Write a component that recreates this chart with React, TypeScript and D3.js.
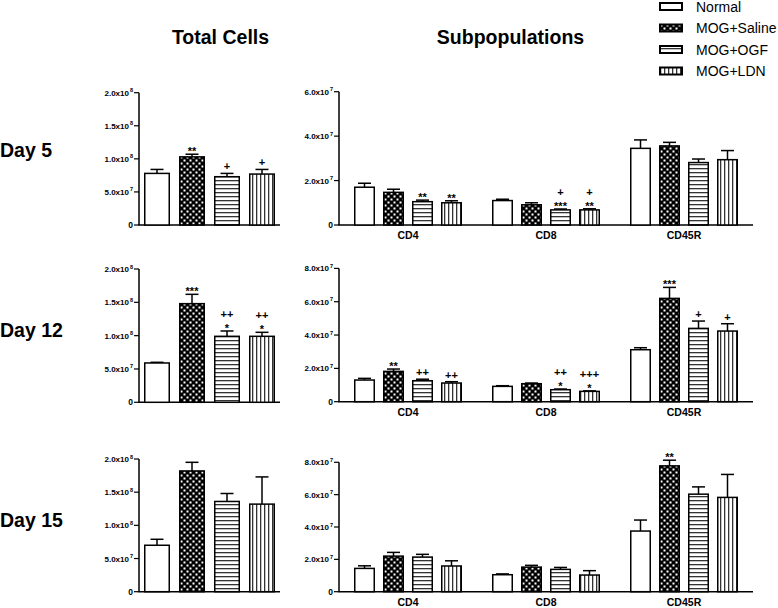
import React from "react";
import * as d3 from "d3";

const groups = ["Normal", "MOG+Saline", "MOG+OGF", "MOG+LDN"];
const subsets = ["CD4", "CD8", "CD45R"];
const days = ["Day 5", "Day 12", "Day 15"];

// Total cells (x1e8)
const totalMeans = [
  [0.78, 1.03, 0.73, 0.77],
  [0.59, 1.48, 0.99, 0.99],
  [0.7, 1.82, 1.36, 1.32],
];
const totalErr = [
  [0.06, 0.04, 0.05, 0.07],
  [0.01, 0.14, 0.08, 0.06],
  [0.09, 0.13, 0.12, 0.41],
];
const totalMarks = [
  [[], ["**"], ["+"], ["+"]],
  [[], ["***"], ["++", "*"], ["++", "*"]],
  [[], [], [], []],
];

// Subpopulations (x1e7): [day][subset][group]
const subMeans = [
  [[1.7, 1.47, 1.05, 1.0], [1.1, 0.91, 0.68, 0.68], [3.45, 3.56, 2.81, 2.94]],
  [[1.3, 1.82, 1.26, 1.12], [0.92, 1.08, 0.72, 0.62], [3.12, 6.2, 4.4, 4.24]],
  [[1.44, 2.2, 2.14, 1.59], [1.05, 1.52, 1.38, 1.03], [3.75, 7.78, 6.03, 5.83]],
];
const subErr = [
  [[0.18, 0.14, 0.07, 0.09], [0.06, 0.09, 0.04, 0.05], [0.38, 0.16, 0.16, 0.41]],
  [[0.1, 0.14, 0.09, 0.08], [0.04, 0.04, 0.04, 0.03], [0.12, 0.66, 0.44, 0.44]],
  [[0.16, 0.23, 0.17, 0.32], [0.05, 0.11, 0.12, 0.27], [0.68, 0.35, 0.45, 1.42]],
];
const subMarks = [
  [[[], [], ["**"], ["**"]], [[], [], ["+", "***"], ["+", "**"]], [[], [], [], []]],
  [[[], ["**"], ["++"], ["++"]], [[], [], ["++", "*"], ["+++", "*"]], [[], ["***"], ["+"], ["+"]]],
  [[[], [], [], []], [[], [], [], []], [[], ["**"], [], []]],
];

const totalTicks = [
  [0, ""],
  [0.5, "5.0x10|7"],
  [1.0, "1.0x10|8"],
  [1.5, "1.5x10|8"],
  [2.0, "2.0x10|8"],
];
const subTicksDay5 = [
  [0, ""],
  [2, "2.0x10|7"],
  [4, "4.0x10|7"],
  [6, "6.0x10|7"],
];
const subTicks = [
  [0, ""],
  [2, "2.0x10|7"],
  [4, "4.0x10|7"],
  [6, "6.0x10|7"],
  [8, "8.0x10|7"],
];

const fills = ["#fff", "url(#pCheck)", "url(#pH)", "url(#pV)"];
const FONT = "'Liberation Sans', Arial, Helvetica, sans-serif";

const totalRows = [
  [92.7, 225],
  [269, 402.3],
  [459, 591.7],
];
const subRows = [
  [91.7, 225],
  [268.4, 401.7],
  [462.3, 591.7],
];
const dayLabelY = [157, 337, 527];

function TickLabel({ x, y, label }: { x: number; y: number; label: string }) {
  if (label === "") {
    return (
      <text x={x} y={y + 3} textAnchor="end" fontSize={8.5} fontWeight="bold" fontFamily={FONT}>
        0
      </text>
    );
  }
  const [base, exp] = label.split("|");
  return (
    <text x={x} y={y + 3} textAnchor="end" fontSize={8} fontWeight="bold" fontFamily={FONT}>
      {base}
      <tspan dx={1} dy={-3.5} fontSize={5.5}>
        {exp}
      </tspan>
    </text>
  );
}

function Axis({ x0, x1, y, ticks }: { x0: number; x1: number; y: d3.ScaleLinear<number, number>; ticks: any[] }) {
  const [bottom, top] = y.range();
  return (
    <g>
      <line x1={x0} x2={x0} y1={top} y2={bottom} stroke="#000" strokeWidth={1.5} />
      <line x1={x0 - 0.75} x2={x1} y1={bottom} y2={bottom} stroke="#000" strokeWidth={1.5} />
      {ticks.map(([v, lab]: any, i: number) => (
        <g key={i}>
          <line x1={x0 - 5} x2={x0} y1={y(v)} y2={y(v)} stroke="#000" strokeWidth={1.2} />
          <TickLabel x={x0 - 6} y={y(v)} label={lab} />
        </g>
      ))}
    </g>
  );
}

function Bars({
  band,
  means,
  errs,
  marks,
  y,
  pitch,
  width,
}: {
  band: number;
  means: number[];
  errs: number[];
  marks: string[][];
  y: d3.ScaleLinear<number, number>;
  pitch: number;
  width: number;
}) {
  const inner = d3
    .scaleBand<number>()
    .domain(d3.range(means.length))
    .range([band - pitch * 2, band + pitch * 2])
    .paddingInner(1 - width / pitch)
    .paddingOuter((1 - width / pitch) / 2);
  const y0 = y(0);
  return (
    <g>
      {means.map((m, i) => {
        const x = inner(i)!;
        const w = inner.bandwidth();
        const cx = x + w / 2;
        const top = y(m);
        const et = y(m + errs[i]);
        const lines = marks[i];
        return (
          <g key={i}>
            <rect x={x} y={top} width={w} height={y0 - top} fill={fills[i]} stroke="#000" strokeWidth={1.5} />
            <line x1={cx} x2={cx} y1={top} y2={et} stroke="#000" strokeWidth={1.5} />
            <line x1={cx - 6.5} x2={cx + 6.5} y1={et} y2={et} stroke="#000" strokeWidth={1.5} />
            {lines.map((s, j) => {
              const fromBottom = lines.length - 1 - j;
              const isStar = s.includes("*");
              const by = et - 3 - fromBottom * 10 + (isStar ? 4 : 0);
              return (
                <text key={j} x={cx} y={by} textAnchor="middle" fontSize={11} fontWeight="bold" fontFamily={FONT} fill="#000">
                  {s}
                </text>
              );
            })}
          </g>
        );
      })}
    </g>
  );
}

export default function App() {
  const totX0 = 139;
  const totX1 = 280;
  const subX0 = 339;
  const subX1 = 753;

  const subBand = d3.scaleBand<string>().domain(subsets).range([subX0, subX1]).padding(0);

  return (
    <div style={{ position: "absolute", left: 0, top: 0 }}>
      <svg width={778} height={608} style={{ display: "block", background: "#fff" }}>
        <defs>
          <pattern id="pCheck" width={6} height={6} patternUnits="userSpaceOnUse">
            <rect width={6} height={6} fill="#000" />
            <rect x={0.5} y={0.5} width={2} height={2} fill="#fff" />
            <rect x={3.5} y={3.5} width={2} height={2} fill="#fff" />
          </pattern>
          <pattern id="pH" width={4} height={4} patternUnits="userSpaceOnUse">
            <rect width={4} height={4} fill="#fff" />
            <rect x={0} y={0} width={4} height={1.3} fill="#333" />
          </pattern>
          <pattern id="pV" width={4} height={4} patternUnits="userSpaceOnUse">
            <rect width={4} height={4} fill="#fff" />
            <rect x={0} y={0} width={1.3} height={4} fill="#333" />
          </pattern>
        </defs>

        <text x={220.5} y={43.5} textAnchor="middle" fontSize={19.5} fontWeight="bold" fontFamily={FONT}>
          Total Cells
        </text>
        <text x={510.5} y={43.5} textAnchor="middle" fontSize={19.5} fontWeight="bold" fontFamily={FONT}>
          Subpopulations
        </text>

        {groups.map((g, i) => {
          const by = 11.5 + i * 21.5;
          return (
            <g key={g}>
              <rect x={660} y={by - 8.5} width={22} height={7} fill={fills[i]} stroke="#000" strokeWidth={2} />
              <text x={696} y={by} fontSize={14} fontFamily={FONT}>
                {g}
              </text>
            </g>
          );
        })}

        {days.map((d, di) => {
          const yT = d3.scaleLinear().domain([0, 2.0]).range([totalRows[di][1], totalRows[di][0]]);
          const maxSub = di === 0 ? 6 : 8;
          const yS = d3.scaleLinear().domain([0, maxSub]).range([subRows[di][1], subRows[di][0]]);
          return (
            <g key={d}>
              <text x={0} y={dayLabelY[di]} fontSize={19.5} fontWeight="bold" fontFamily={FONT}>
                {d}
              </text>
              <Axis x0={totX0} x1={totX1} y={yT} ticks={totalTicks} />
              <Bars
                band={(totX0 + totX1) / 2}
                means={totalMeans[di]}
                errs={totalErr[di]}
                marks={totalMarks[di]}
                y={yT}
                pitch={35}
                width={24.5}
              />
              <Axis x0={subX0} x1={subX1} y={yS} ticks={di === 0 ? subTicksDay5 : subTicks} />
              {subsets.map((s, si) => {
                const c = subBand(s)! + subBand.bandwidth() / 2;
                return (
                  <g key={s}>
                    <Bars
                      band={c}
                      means={subMeans[di][si]}
                      errs={subErr[di][si]}
                      marks={subMarks[di][si]}
                      y={yS}
                      pitch={29}
                      width={19.5}
                    />
                    <text
                      x={c}
                      y={subRows[di][1] + 14}
                      textAnchor="middle"
                      fontSize={10.5}
                      fontWeight="bold"
                      fontFamily={FONT}
                    >
                      {s}
                    </text>
                  </g>
                );
              })}
            </g>
          );
        })}
      </svg>
    </div>
  );
}
